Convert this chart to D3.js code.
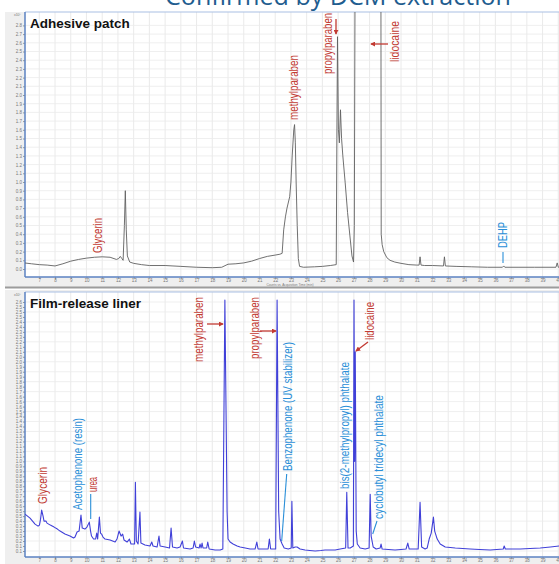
<!DOCTYPE html>
<html lang="en">
<head>
<meta charset="UTF-8">
<title>Confirmed by DCM extraction</title>
<script src="https://cdn.jsdelivr.net/npm/d3@7"></script>
<style>
  body { margin: 0; background: #fff; }
  svg { display: block; font-family: "Liberation Sans Narrow", "Arial Narrow", "Liberation Sans", Arial, sans-serif; }
  .tick-label { font-family: "Liberation Sans", Arial, sans-serif; font-size: 4.5px; fill: #777; }
</style>
</head>
<body>
<svg id="chart" width="559" height="564"></svg>
<script>
// axis ticks
const timeTicks = [7, 8, 9, 10, 11, 12, 13, 14, 15, 16, 17, 18, 19, 20, 21, 22, 23, 24,
    25, 26, 27, 28, 29, 30, 31, 32, 33, 34, 35, 36, 37, 38, 39, 40];
const patchTicks = [0, 0.1, 0.2, 0.3, 0.4, 0.5, 0.6, 0.7, 0.8, 0.9, 1, 1.1, 1.2, 1.3, 1.4,
    1.5, 1.6, 1.7, 1.8, 1.9, 2, 2.1, 2.2, 2.3, 2.4, 2.5, 2.6, 2.7, 2.8];
const linerTicks = [0.1, 0.15, 0.2, 0.25, 0.3, 0.35, 0.4, 0.45, 0.5, 0.55, 0.6, 0.65, 0.7,
    0.75, 0.8, 0.85, 0.9, 0.95, 1, 1.05, 1.1, 1.15, 1.2, 1.25, 1.3, 1.35, 1.4, 1.45, 1.5,
    1.55, 1.6, 1.65, 1.7, 1.75, 1.8, 1.85, 1.9, 1.95, 2, 2.05, 2.1, 2.15, 2.2, 2.25, 2.3,
    2.35, 2.4, 2.45, 2.5, 2.55, 2.6];

// adhesive patch trace: acquisition time (min), counts (x10^5)
const patchTime = [6.05, 6.5, 7.0, 7.5, 8.0, 8.5, 9.0, 9.5, 10.0, 10.5, 11.0, 11.5, 11.9,
    12.05, 12.15, 12.25, 12.33, 12.41, 12.47, 12.53, 12.6, 12.75, 13.0, 13.5, 14.0, 15.0,
    15.5, 16.0, 17.0, 18.0, 18.6, 19.0, 19.5, 20.0, 20.5, 21.0, 21.5, 22.0, 22.3, 22.44,
    22.54, 22.65, 22.75, 22.92, 23.0, 23.08, 23.18, 23.23, 23.28, 23.33, 23.4, 23.47, 23.55,
    23.8, 24.5, 25.0, 25.5, 25.88, 25.92, 25.96, 26.02, 26.08, 26.15, 26.22, 26.3, 26.45,
    26.6, 26.75, 26.88, 26.98, 27.03, 27.08, 28.72, 28.74, 28.8, 28.9, 29.1, 29.3, 29.6,
    30.0, 30.5, 31.0, 31.15, 31.21, 31.27, 31.5, 32.0, 32.7, 32.76, 32.82, 33.5, 34.5,
    35.5, 36.45, 36.53, 36.6, 37.5, 38.5, 39.85, 39.93, 40.0, 40.8];
const patchCounts = [0.07, 0.06, 0.05, 0.045, 0.035, 0.06, 0.09, 0.11, 0.125, 0.135, 0.14,
    0.135, 0.11, 0.12, 0.145, 0.12, 0.1, 0.5, 0.9, 0.45, 0.15, 0.08, 0.065, 0.05, 0.04, 0.04,
    0.035, 0.03, 0.02, 0.015, 0.02, 0.055, 0.06, 0.07, 0.09, 0.12, 0.145, 0.16, 0.17, 0.18,
    0.45, 0.6, 0.7, 0.83, 1.0, 1.3, 1.6, 1.66, 1.45, 1.0, 0.5, 0.12, 0.03,
    0.02, 0.025, 0.03, 0.04, 0.05, 1.5, 2.67, 1.6, 1.45, 1.83, 1.5, 1.3, 0.99,
    0.65, 0.38, 0.15, 0.08, 0.5, 3.5, 3.5, 0.4, 0.28, 0.2, 0.13, 0.1, 0.08,
    0.065, 0.05, 0.045, 0.045, 0.14, 0.045, 0.04, 0.04, 0.035, 0.14, 0.035, 0.03, 0.025,
    0.02, 0.02, 0.035, 0.02, 0.02, 0.02, 0.02, 0.07, 0.02, 0.02];

// film-release liner trace: acquisition time (min), counts (x10^5)
const linerTime = [6.09, 6.25, 6.41, 6.57, 6.73, 6.92, 7.01, 7.08, 7.15, 7.24, 7.3, 7.43,
    7.49, 7.7, 7.94, 8.15, 8.32, 8.63, 8.95, 9.18, 9.27, 9.4, 9.53, 9.65, 9.73, 9.9, 10.03,
    10.18, 10.26, 10.32, 10.45, 10.58, 10.65, 10.71, 10.82, 10.89, 10.96, 11.05, 11.18, 11.5,
    11.82, 11.94, 12.07, 12.2, 12.3, 12.39, 12.58, 12.73, 12.83, 13.06, 13.11, 13.17, 13.28,
    13.4, 13.46, 13.72, 14.04, 14.15, 14.23, 14.49, 14.61, 14.68, 15.0, 15.28, 15.38, 15.47,
    15.76, 15.95, 16.1, 16.17, 16.59, 16.78, 16.86, 16.94, 17.16, 17.22, 17.29, 17.35, 17.41,
    17.64, 17.71, 17.8, 18.18, 18.5, 18.67, 18.8, 18.8, 18.94, 19.0, 19.13, 19.32, 19.58,
    19.77, 20.09, 20.4, 20.72, 20.83, 20.91, 21.36, 21.55, 21.63, 21.71, 22.03, 22.12, 22.12,
    22.22, 22.31, 22.44, 22.57, 22.83, 23.02, 23.06, 23.12, 23.27, 23.39, 23.58, 23.9, 24.2,
    24.54, 24.9, 25.17, 25.5, 25.81, 26.13, 26.48, 26.55, 26.63, 26.77, 26.97, 27.01, 27.05,
    27.09, 27.15, 27.22, 27.4, 27.72, 27.97, 28.04, 28.1, 28.23, 28.42, 28.67, 28.73, 28.8,
    29.2, 29.62, 30.0, 30.32, 30.43, 30.52, 31.09, 31.21, 31.31, 31.53, 31.66, 31.79, 31.92,
    32.06, 32.14, 32.3, 32.49, 32.81, 33.45, 34.4, 35.0, 35.67, 36.5, 36.56, 36.63, 37.58,
    38.2, 38.85, 39.5, 40.06, 40.8];
const linerCounts = [0.47, 0.45, 0.43, 0.40, 0.37, 0.35, 0.36, 0.42, 0.51, 0.45, 0.40, 0.40,
    0.38, 0.36, 0.34, 0.32, 0.30, 0.27, 0.25, 0.23, 0.24, 0.29, 0.30, 0.46, 0.33, 0.32, 0.34,
    0.39, 0.30, 0.25, 0.22, 0.22, 0.28, 0.22, 0.44, 0.28, 0.27, 0.24, 0.22, 0.21,
    0.19, 0.22, 0.30, 0.25, 0.27, 0.21, 0.19, 0.22, 0.17, 0.17, 0.79, 0.20, 0.17,
    0.49, 0.18, 0.16, 0.15, 0.19, 0.15, 0.14, 0.25, 0.15, 0.14, 0.13, 0.33, 0.14,
    0.13, 0.14, 0.20, 0.13, 0.12, 0.13, 0.20, 0.14, 0.13, 0.17, 0.13, 0.18, 0.13,
    0.13, 0.19, 0.12, 0.11, 0.11, 0.12, 2.62, 2.62, 0.5, 0.22, 0.19, 0.17, 0.15,
    0.14, 0.13, 0.12, 0.12, 0.19, 0.12, 0.12, 0.12, 0.22, 0.12, 0.12, 2.62, 2.62,
    0.5, 0.22, 0.17, 0.13, 0.12, 0.13, 0.60, 0.13, 0.14, 0.14, 0.12, 0.11, 0.105,
    0.10, 0.105, 0.11, 0.11, 0.11, 0.12, 0.13, 0.69, 0.13, 0.13, 0.15, 2.62, 1.0,
    2.1, 0.3, 0.17, 0.13, 0.12, 0.13, 0.67, 0.25, 0.14, 0.12, 0.13, 0.17, 0.12,
    0.115, 0.11, 0.115, 0.12, 0.18, 0.12, 0.12, 0.59, 0.14, 0.12, 0.13, 0.22, 0.28,
    0.44, 0.30, 0.22, 0.17, 0.14, 0.13, 0.12, 0.115, 0.11, 0.12, 0.15, 0.12, 0.12,
    0.125, 0.13, 0.14, 0.15, 0.16];

const patchData = patchTime.map((t, i) => [t, patchCounts[i]]);
const linerData = linerTime.map((t, i) => [t, linerCounts[i]]);

const red = "#c23a32";
const blue = "#2a8fd8";

const svg = d3.select("#chart");

// shared time axis
const x = d3.scaleLinear().domain([7, 40]).range([39.3, 558.3]);

const defs = svg.append("defs");
defs.append("marker")
    .attr("id", "arrow")
    .attr("viewBox", "0 0 6 6")
    .attr("refX", 5).attr("refY", 3)
    .attr("markerWidth", 5).attr("markerHeight", 5)
    .attr("markerUnits", "userSpaceOnUse")
    .attr("orient", "auto")
    .append("path").attr("d", "M0,0L6,3L0,6Z").attr("fill", red);

// title, mostly cut off at the top of the slide
svg.append("text")
    .attr("x", 165).attr("y", 4.5)
    .attr("textLength", 346).attr("lengthAdjust", "spacingAndGlyphs")
    .style("font-family", "'Open Sans', 'Liberation Sans', sans-serif")
    .style("font-size", "26px")
    .attr("fill", "#1f5d8f")
    .text("Confirmed by DCM extraction");

function drawPanel(p) {
    const g = svg.append("g");
    const y = d3.scaleLinear().domain(p.yDomain).range(p.yRange);

    g.append("rect")
        .attr("x", 5).attr("y", p.top)
        .attr("width", 554).attr("height", p.bottom - p.top)
        .attr("fill", "#efefef");
    g.append("rect")
        .attr("x", 25).attr("y", p.plotTop)
        .attr("width", 534).attr("height", p.plotBottom - p.plotTop)
        .attr("fill", "#fff");

    // grid
    g.append("g").selectAll("line")
        .data(timeTicks)
        .join("line")
        .attr("x1", d => x(d)).attr("x2", d => x(d))
        .attr("y1", p.plotTop).attr("y2", p.plotBottom)
        .attr("stroke", "#e4e4e4").attr("stroke-width", 0.8);
    g.append("g").selectAll("line")
        .data(p.gridTicks)
        .join("line")
        .attr("x1", 25).attr("x2", 559)
        .attr("y1", d => y(d)).attr("y2", d => y(d))
        .attr("stroke", "#ebebeb").attr("stroke-width", 0.8);

    // x axis
    const xAxis = g.append("g")
        .attr("transform", `translate(0,${p.plotBottom})`)
        .call(d3.axisBottom(x).tickValues(timeTicks).tickSize(2).tickPadding(0));
    xAxis.select(".domain").remove();
    xAxis.selectAll("line").attr("stroke", "#999");
    xAxis.selectAll("text").attr("class", "tick-label").attr("font-size", null).attr("font-family", null);

    // y axis
    const yAxis = g.append("g")
        .attr("transform", "translate(25,0)")
        .call(d3.axisLeft(y).tickValues(p.yTicks).tickSize(2).tickPadding(1));
    yAxis.select(".domain").remove();
    yAxis.selectAll("line").attr("stroke", "#999");
    yAxis.selectAll("text").attr("class", "tick-label").attr("font-size", null).attr("font-family", null);

    g.append("text")
        .attr("class", "tick-label")
        .attr("x", 21).attr("y", p.plotTop + 3.5)
        .attr("text-anchor", "end")
        .style("font-size", "3.5px")
        .text("x10⁵");

    // frame
    g.append("line").attr("x1", 25).attr("x2", 559)
        .attr("y1", p.plotTop).attr("y2", p.plotTop)
        .attr("stroke", "#a9bfe3").attr("stroke-width", 1);
    g.append("line").attr("x1", 25).attr("x2", 25)
        .attr("y1", p.plotTop).attr("y2", p.plotBottom)
        .attr("stroke", "#5b82c2").attr("stroke-width", 1.5);
    g.append("line").attr("x1", 25).attr("x2", 559)
        .attr("y1", p.plotBottom).attr("y2", p.plotBottom)
        .attr("stroke", "#5b82c2").attr("stroke-width", 1.5);

    // trace
    defs.append("clipPath").attr("id", p.id + "-clip")
        .append("rect")
        .attr("x", 25).attr("y", p.plotTop)
        .attr("width", 534).attr("height", p.plotBottom - p.plotTop);
    const line = d3.line().x(d => x(d[0])).y(d => y(d[1]));
    g.append("path")
        .datum(p.data)
        .attr("clip-path", `url(#${p.id}-clip)`)
        .attr("fill", "none")
        .attr("stroke", p.color)
        .attr("stroke-width", p.strokeWidth)
        .attr("stroke-linejoin", "round")
        .attr("d", line);

    g.append("text")
        .attr("x", 30).attr("y", p.plotTop + 16)
        .attr("font-weight", "bold")
        .attr("font-size", "13.5px")
        .attr("fill", "#111")
        .text(p.title);

    return g;
}

function vlabel(g, text, cx, yBottom, span, color) {
    g.append("text")
        .attr("transform", `translate(${cx},${yBottom}) rotate(-90)`)
        .attr("dy", "0.36em")
        .attr("font-size", "12px")
        .attr("textLength", span).attr("lengthAdjust", "spacingAndGlyphs")
        .attr("fill", color)
        .text(text);
}

function arrow(g, x1, y1, x2, y2) {
    g.append("line")
        .attr("x1", x1).attr("y1", y1).attr("x2", x2).attr("y2", y2)
        .attr("stroke", red).attr("stroke-width", 1.3)
        .attr("marker-end", "url(#arrow)");
}

function leader(g, x1, y1, x2, y2) {
    g.append("line")
        .attr("x1", x1).attr("y1", y1).attr("x2", x2).attr("y2", y2)
        .attr("stroke", blue).attr("stroke-width", 1.1);
}

// top panel: adhesive patch
const patchPanel = drawPanel({
    id: "patch", title: "Adhesive patch",
    top: 12, bottom: 287, plotTop: 12, plotBottom: 277,
    yDomain: [0, 1], yRange: [269, 182],
    yTicks: patchTicks, gridTicks: patchTicks,
    data: patchData, color: "#606060", strokeWidth: 0.9
});
svg.append("line").attr("x1", 5).attr("x2", 559).attr("y1", 287.5).attr("y2", 287.5)
    .attr("stroke", "#9c9c9c").attr("stroke-width", 2);
patchPanel.append("text")
    .attr("class", "tick-label")
    .attr("x", 290).attr("y", 286.2)
    .attr("text-anchor", "middle")
    .style("font-size", "3.2px")
    .text("Counts vs. Acquisition Time (min)");

vlabel(patchPanel, "Glycerin", 98, 253, 35, red);
vlabel(patchPanel, "methylparaben", 294, 120, 65, red);
vlabel(patchPanel, "propylparaben", 327.5, 74, 61, red);
vlabel(patchPanel, "lidocaine", 395, 62, 41, red);
vlabel(patchPanel, "DEHP", 502.7, 248, 26, blue);
arrow(patchPanel, 336, 19, 336, 34);
arrow(patchPanel, 388, 44, 371, 44);
leader(patchPanel, 503, 252, 503, 263);

// bottom panel: film-release liner
const linerPanel = drawPanel({
    id: "liner", title: "Film-release liner",
    top: 290, bottom: 564, plotTop: 292, plotBottom: 557,
    yDomain: [0.1, 2.6], yRange: [551, 302],
    yTicks: linerTicks, gridTicks: linerTicks.filter((d, i) => i % 2 === 0),
    data: linerData, color: "#4040d8", strokeWidth: 1.1
});

vlabel(linerPanel, "methylparaben", 199, 362, 65, red);
vlabel(linerPanel, "propylparaben", 255, 359, 62, red);
vlabel(linerPanel, "Benzophenone (UV stabilizer)", 288, 471, 129, blue);
vlabel(linerPanel, "bis(2-methylpropyl) phthalate", 345, 489, 127, blue);
vlabel(linerPanel, "lidocaine", 370, 340, 38, red);
vlabel(linerPanel, "cyclobutyl tridecyl phthalate", 379, 519, 124, blue);
vlabel(linerPanel, "Glycerin", 43, 504, 37, red);
vlabel(linerPanel, "Acetophenone (resin)", 78, 510, 92, blue);
vlabel(linerPanel, "urea", 93, 492, 15, red);
arrow(linerPanel, 207, 324, 223, 324);
arrow(linerPanel, 260, 331, 276, 331);
arrow(linerPanel, 368, 342, 356, 351);
leader(linerPanel, 286.7, 474, 281.7, 541);
leader(linerPanel, 377, 521, 372.7, 534);
leader(linerPanel, 90.7, 494, 90.7, 519);
</script>
</body>
</html>
